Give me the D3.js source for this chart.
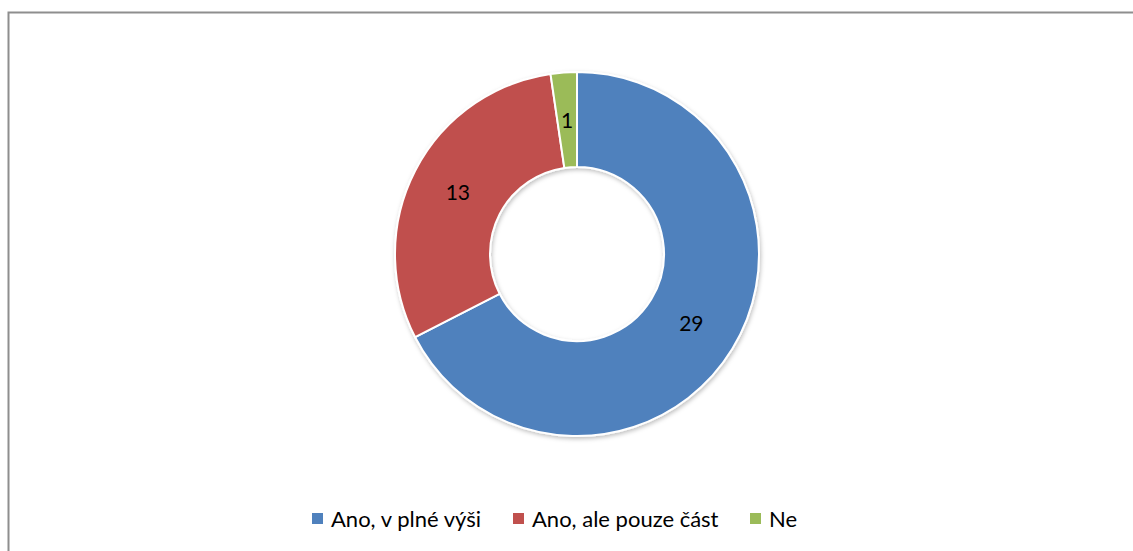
<!DOCTYPE html>
<html lang="cs">
<head>
<meta charset="UTF-8">
<title>Donut</title>
<script src="https://cdn.jsdelivr.net/npm/d3@7"></script>
<style>
    body { margin: 0; background: #fff; }
    text { font-family: Lato, "Open Sans", sans-serif; fill: #000; }
</style>
</head>
<body>
<script>
const categories = ["Ano, v plné výši", "Ano, ale pouze část", "Ne"];
const values = [29, 13, 1];
const colors = ["#4F81BD", "#C0504D", "#9BBB59"];

const w = 1133, h = 551;
const svg = d3.select("body").append("svg")
    .attr("width", w)
    .attr("height", h);

// chart frame, runs off the right and bottom edges
svg.append("rect")
    .attr("x", 8.5).attr("y", 12.5)
    .attr("width", 1140).attr("height", 560)
    .attr("fill", "none")
    .attr("stroke", "#8e8e8e")
    .attr("stroke-width", 2);

const defs = svg.append("defs");
const shadow = defs.append("filter").attr("id", "shadow")
    .attr("x", "-10%").attr("y", "-10%").attr("width", "120%").attr("height", "120%");
shadow.append("feDropShadow")
    .attr("dx", 1).attr("dy", 2).attr("stdDeviation", 2)
    .attr("flood-color", "#000").attr("flood-opacity", 0.25);

const cx = 577, cy = 254;
const outerR = 182, innerR = 87;

const pie = d3.pie().sort(null).value(d => d);
const arc = d3.arc().innerRadius(innerR).outerRadius(outerR);
const labelArc = d3.arc().innerRadius(134).outerRadius(134);

const g = svg.append("g").attr("transform", `translate(${cx},${cy})`);
const arcs = pie(values);

g.append("g").attr("filter", "url(#shadow)")
    .selectAll("path")
    .data(arcs)
    .enter()
    .append("path")
    .attr("d", arc)
    .attr("fill", (d, i) => colors[i])
    .attr("stroke", "#fff")
    .attr("stroke-width", 2);

g.selectAll("text.lbl")
    .data(arcs)
    .enter()
    .append("text")
    .attr("class", "lbl")
    .attr("transform", d => `translate(${labelArc.centroid(d)})`)
    .attr("text-anchor", "middle")
    .attr("dy", "0.36em")
    .style("font-size", "21px")
    .text(d => d.data);

// legend
const legendX = [312, 513, 750];
const legend = svg.append("g");
const item = legend.selectAll("g")
    .data(categories)
    .enter()
    .append("g")
    .attr("transform", (d, i) => `translate(${legendX[i]},513)`);
item.append("rect")
    .attr("width", 11).attr("height", 11)
    .attr("fill", (d, i) => colors[i]);
item.append("text")
    .attr("x", 19).attr("y", 14)
    .style("font-size", "22px")
    .text(d => d);
</script>
</body>
</html>
